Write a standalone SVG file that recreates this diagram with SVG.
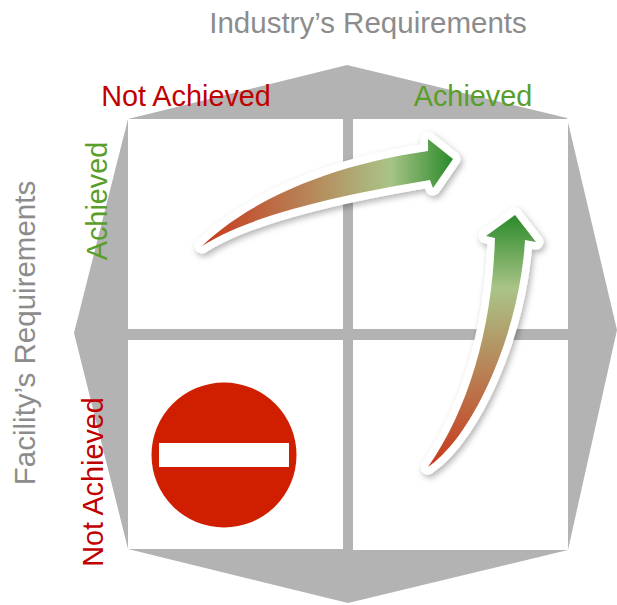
<svg xmlns="http://www.w3.org/2000/svg" width="617" height="605" viewBox="0 0 617 605">
  <style>
    .lbl { font-family: "Liberation Sans", Arial, sans-serif; font-size: 28.8px; }
    .axis { fill: #8c8c8c; font-size: 29.5px; }
    .red { fill: #c00000; }
    .green { fill: #5a9e2a; }
    .quad { fill: #ffffff; }
    .arrow { stroke: #ffffff; stroke-width: 15; stroke-linejoin: round; paint-order: stroke; filter: url(#shadow); }
  </style>
  <defs>
    <filter id="shadow" x="-20%" y="-20%" width="140%" height="140%">
      <feDropShadow dx="2" dy="3" stdDeviation="3" flood-color="#000000" flood-opacity="0.3"/>
    </filter>
    <linearGradient id="g1" gradientUnits="userSpaceOnUse" x1="202" y1="0" x2="453" y2="0">
      <stop offset="0" stop-color="#c8381c"/>
      <stop offset="0.45" stop-color="#b68a5c"/>
      <stop offset="0.75" stop-color="#a9c487"/>
      <stop offset="1" stop-color="#2a8a2a"/>
    </linearGradient>
    <linearGradient id="g2" gradientUnits="userSpaceOnUse" x1="0" y1="467" x2="0" y2="215">
      <stop offset="0" stop-color="#c8381c"/>
      <stop offset="0.42" stop-color="#b68a5c"/>
      <stop offset="0.71" stop-color="#a9c487"/>
      <stop offset="1" stop-color="#2a8a2a"/>
    </linearGradient>
  </defs>

  <g id="background">
    <polygon points="128,119 347,65 567,118 617,330 568,550 348,603 128,549 74,333" fill="#b3b3b3"/>
  </g>

  <g id="quadrants">
    <rect id="q-top-left" class="quad" x="128" y="119" width="215" height="210"/>
    <rect id="q-top-right" class="quad" x="353" y="119" width="215" height="210"/>
    <rect id="q-bottom-left" class="quad" x="128" y="340" width="215" height="209"/>
    <rect id="q-bottom-right" class="quad" x="353" y="340" width="215" height="210"/>
  </g>

  <g id="labels" class="lbl">
    <text id="industry" class="lbl axis" x="368" y="33" text-anchor="middle">Industry’s Requirements</text>
    <text id="top-not" class="lbl red" x="186" y="106" text-anchor="middle">Not Achieved</text>
    <text id="top-ach" class="lbl green" x="473" y="106" text-anchor="middle">Achieved</text>
    <text id="facility" class="lbl axis" transform="translate(35,333) rotate(-90)" text-anchor="middle">Facility’s Requirements</text>
    <text id="left-ach" class="lbl green" transform="translate(107,201) rotate(-90)" text-anchor="middle">Achieved</text>
    <text id="left-not" class="lbl red" transform="translate(103,482) rotate(-90)" text-anchor="middle">Not Achieved</text>
  </g>

  <g id="no-entry">
    <circle cx="224" cy="455" r="72.5" fill="#d01f00"/>
    <rect x="159" y="443" width="130" height="24" fill="#ffffff"/>
  </g>

  <g id="connectors">
    <path id="arrow-horizontal" class="arrow" fill="url(#g1)" d="M202,246 C250,200 330,165 428,151 L428,139 L453,159 L433,188 L430,180 C340,195 250,215 202,246 Z"/>
    <path id="arrow-vertical" class="arrow" fill="url(#g2)" d="M428,467 C475,435 520,330 525,240 L536,242 L515,215 L486,236 L495,238 C492,330 468,410 428,467 Z"/>
  </g>
</svg>
